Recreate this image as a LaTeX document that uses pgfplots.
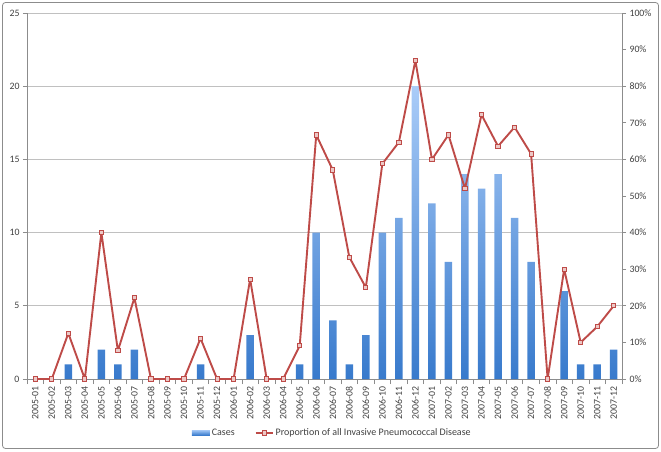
\documentclass[border=0pt]{standalone}
\usepackage{fontspec}
\setmainfont{Carlito}
\usepackage{pgfplots}
\pgfplotsset{compat=1.18}

\definecolor{gridgray}{RGB}{192,192,192}
\definecolor{axgray}{RGB}{140,140,140}
\definecolor{barlight}{RGB}{170,204,248}
\definecolor{bardark}{RGB}{56,122,204}
\definecolor{linered}{RGB}{190,75,72}
\definecolor{markfill}{RGB}{236,200,198}
\definecolor{txt}{RGB}{64,64,64}

\pgfplotsset{
  common/.style={
    at={(27pt,72pt)}, anchor=south west,
    scale only axis, width=595pt, height=366pt,
    xmin=-0.5, xmax=35.5,
    tick align=outside,
    major tick length=4pt, minor tick length=5pt,
    axis line style={axgray, line width=0.7pt},
    tick style={axgray, line width=0.7pt},
    ticklabel style={font=\fontsize{9.8}{10}\selectfont, text=txt},
    /pgf/number format/assume math mode=true,
  },
}

\begin{document}
\begin{tikzpicture}[x=1pt,y=1pt]
\useasboundingbox (0,0) rectangle (661,451);
\draw[black!45, rounded corners=3pt, line width=0.8pt] (2.5,2.5) rectangle (658.5,448.5);

% cases (left axis)
\begin{axis}[common,
  ymin=0, ymax=25, ytick={0,5,...,25},
  ymajorgrids, grid style={gridgray, line width=0.7pt},
  axis y line*=left, axis x line*=bottom,
  xtick={0,...,35},
  major x tick style={draw=none},
  minor xtick={-0.5,0.5,...,35.5},
  xticklabels={2005-01,2005-02,2005-03,2005-04,2005-05,2005-06,2005-07,2005-08,2005-09,2005-10,2005-11,2005-12,
               2006-01,2006-02,2006-03,2006-04,2006-05,2006-06,2006-07,2006-08,2006-09,2006-10,2006-11,2006-12,
               2007-01,2007-02,2007-03,2007-04,2007-05,2007-06,2007-07,2007-08,2007-09,2007-10,2007-11,2007-12},
  xticklabel style={rotate=90, anchor=east, font=\fontsize{9.8}{10}\selectfont},
]
\addplot[ybar, bar width=7.5pt, draw=none, top color=barlight, bottom color=bardark]
  coordinates {
  (0,0) (1,0) (2,1) (3,0) (4,2) (5,1) (6,2) (7,0) (8,0) (9,0) (10,1) (11,0)
  (12,0) (13,3) (14,0) (15,0) (16,1) (17,10) (18,4) (19,1) (20,3) (21,10) (22,11) (23,20)
  (24,12) (25,8) (26,14) (27,13) (28,14) (29,11) (30,8) (31,0) (32,6) (33,1) (34,1) (35,2)
  };
\end{axis}

% proportion (right axis)
\begin{axis}[common,
  ymin=0, ymax=100, ytick={0,10,...,100},
  yticklabel={\pgfmathprintnumber{\tick}\%},
  axis y line*=right, axis x line=none,
  clip=false,
  legend columns=2,
  legend style={at={(0.513,-0.1475)}, anchor=center, draw=none, fill=none,
    font=\fontsize{10}{11}\selectfont, text=txt,
    /tikz/every even column/.append style={column sep=18pt}},
]
\addlegendimage{legend image code/.code={
  \shade[draw=none, top color=barlight!80!bardark, bottom color=bardark] (0pt,-2.2pt) rectangle (18pt,2.2pt);}}
\addlegendentry{Cases}
\addplot[linered, line width=1.9pt, line join=round, mark=square*, mark size=2.1pt,
  mark options={fill=markfill, draw=linered, line width=0.9pt, line join=miter}]
  coordinates {
  (0,0) (1,0) (2,12.5) (3,0) (4,40) (5,7.7) (6,22.2) (7,0) (8,0) (9,0) (10,11.1) (11,0)
  (12,0) (13,27.3) (14,0) (15,0) (16,9.1) (17,66.7) (18,57.1) (19,33.3) (20,25) (21,58.8) (22,64.7) (23,87)
  (24,60) (25,66.7) (26,52) (27,72.2) (28,63.6) (29,68.8) (30,61.5) (31,0) (32,30) (33,10) (34,14.3) (35,20)
  };
\addlegendentry{Proportion of all Invasive Pneumococcal Disease}
\end{axis}
\end{tikzpicture}
\end{document}
